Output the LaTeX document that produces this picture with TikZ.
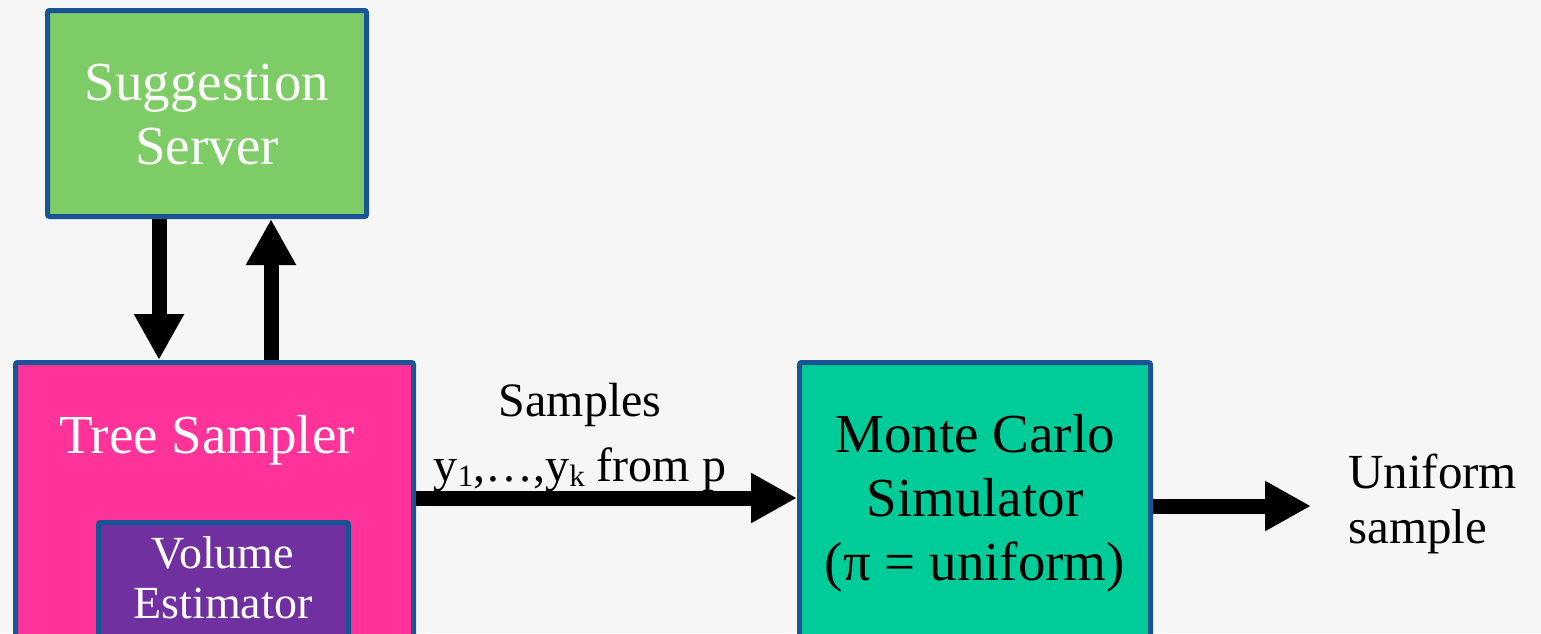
\documentclass[tikz,border=0pt]{standalone}
\usepackage{fontspec}
\setmainfont{Liberation Serif}
\usetikzlibrary{arrows.meta}

\definecolor{bg}{HTML}{F6F6F6}
\definecolor{edge}{HTML}{1B5494}
\definecolor{serverfill}{HTML}{7ECC65}
\definecolor{samplerfill}{HTML}{FF3399}
\definecolor{estimatorfill}{HTML}{7030A0}
\definecolor{simfill}{HTML}{00CC99}

% small, slightly lowered index
\newcommand{\idx}[1]{\raisebox{-5pt}{\fontsize{31}{31}\selectfont #1}}

\begin{document}
\begin{tikzpicture}[x=1pt,y=-1pt,
  block/.style={draw=edge, line width=5pt, rounded corners=2pt,
    anchor=north west, inner sep=0pt, outer sep=2.5pt},
  % multi-line captions are placed by the baseline of their last line
  boxtext/.style={anchor=base, align=center, inner sep=0pt},
  flow/.style={line width=15pt, draw=black,
    -{Triangle[width=47pt,length=46pt]}}
]
% page frame
\useasboundingbox (0,0) rectangle (1541,633);
\clip (0,0) rectangle (1541,633);
\fill[bg] (0,0) rectangle (1541,633);

% blocks
\node[block, fill=serverfill, minimum width=319pt, minimum height=206pt]
  (server) at (45,8) {};
\node[block, fill=samplerfill, minimum width=398pt, minimum height=320pt]
  (sampler) at (13,360) {};
\node[block, fill=estimatorfill, minimum width=250pt, minimum height=160pt]
  (estimator) at (96,520) {};
\node[block, fill=simfill, minimum width=351pt, minimum height=320pt]
  (sim) at (797,360) {};

% block captions
\node[boxtext, text=white, font=\fontsize{55}{64}\selectfont]
  (servertext) at (207,164) {Suggestion\\Server};
\node[boxtext, text=white, font=\fontsize{55}{64}\selectfont]
  (samplertext) at (207,453) {Tree Sampler};
\node[boxtext, text=white, font=\fontsize{46}{50}\selectfont]
  (estimatortext) at (223,618) {Volume\\Estimator};
\node[boxtext, text=black, font=\fontsize{55}{64}\selectfont]
  (simtext) at (975,580) {Monte Carlo\\Simulator\\(π = uniform)};

% arrow rails
\coordinate (downrail) at (159,0);
\coordinate (uprail) at (271,0);
\coordinate (samplesrail) at (0,498);
\coordinate (outrail) at (0,506);
\coordinate (outtip) at (1311,506);

% connectors
\draw[flow] (server.south -| downrail) -- (sampler.north -| downrail);
\draw[flow] (sampler.north -| uprail) -- (server.south -| uprail);
\draw[flow] (sampler.east |- samplesrail) -- (sim.west |- samplesrail);
\draw[flow] (sim.east |- outrail) -- (outtip);

% labels
\node[boxtext, font=\fontsize{48}{65}\selectfont]
  (sampleslabel) at (580,481)
  {Samples\\y\idx{1},…,y\idx{k} from p};
\node[anchor=base west, align=left, inner sep=0pt,
  font=\fontsize{49}{55}\selectfont]
  (result) at (1348,543) {Uniform\\sample};
\end{tikzpicture}
\end{document}
